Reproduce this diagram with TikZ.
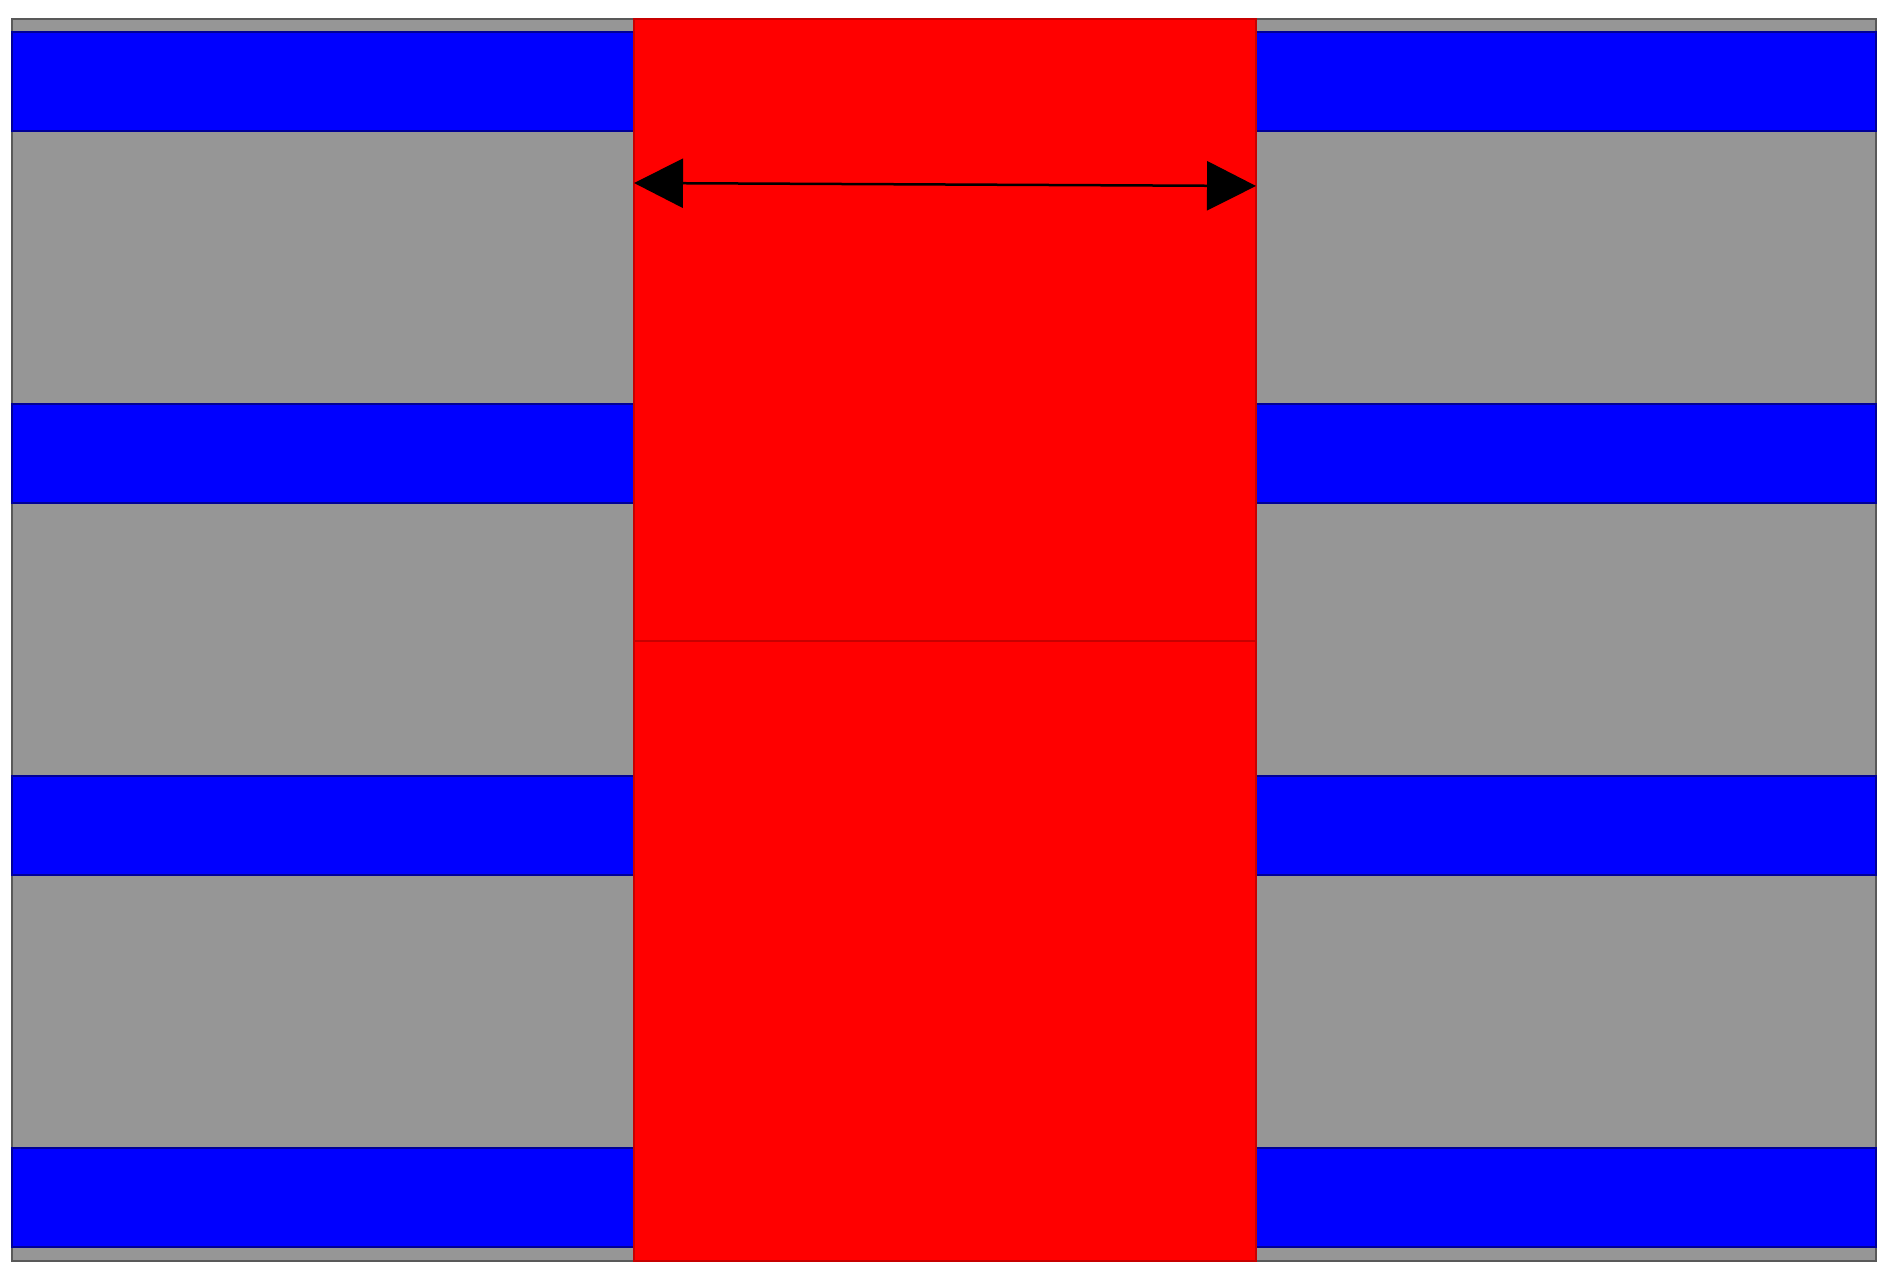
\documentclass[tikz,border=0pt]{standalone}
\usetikzlibrary{arrows.meta}
\definecolor{slab}{RGB}{150,150,150}
\definecolor{band}{RGB}{0,0,255}
\definecolor{bandedge}{RGB}{0,0,150}
\definecolor{core}{RGB}{255,0,0}
\definecolor{coreedge}{RGB}{200,0,0}
\tikzset{
  bandbox/.style={fill=band, draw=bandedge, line width=1.5pt},
  corebox/.style={fill=core, draw=coreedge, line width=1.5pt},
  dimarrow/.style={line width=2.5pt, {Triangle[length=49pt,width=49pt]}-{Triangle[length=49pt,width=49pt]}}
}
\begin{document}
\begin{tikzpicture}[x=1pt,y=-1pt]
  \useasboundingbox (0,0) rectangle (1884,1273);
  \fill[white] (0,0) rectangle (1884,1273);
  % outer slab
  \draw[fill=slab, draw=black!65, line width=2pt] (12,19) rectangle (1876,1261);
  % blue bands
  \foreach \t in {32,404,776,1148}{
    \draw[bandbox] (12,\t) rectangle (1876,\t+99);
  }
  % red core
  \draw[corebox] (634,19) rectangle (1256,1261);
  \draw[coreedge, line width=2pt] (634,641) -- (1256,641);
  % dimension arrow
  \coordinate (aL) at (634,183);
  \coordinate (aR) at (1256,186);
  \draw[dimarrow] (aL) -- (aR);
\end{tikzpicture}
\end{document}
